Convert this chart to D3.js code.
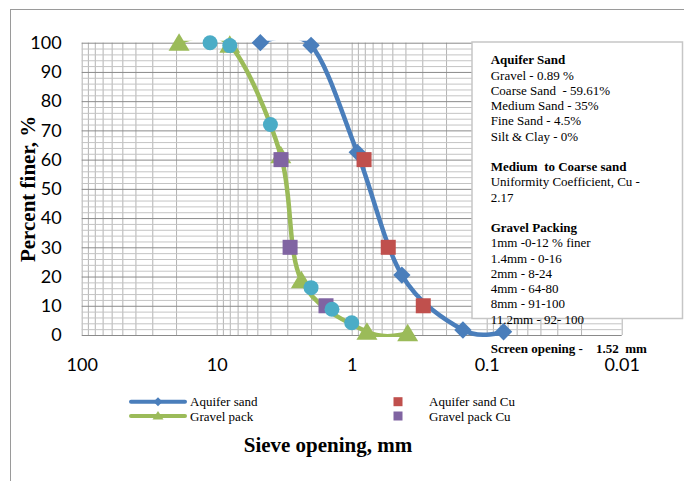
<!DOCTYPE html>
<html><head><meta charset="utf-8">
<script src="https://cdn.jsdelivr.net/npm/d3@7"></script>
<style>
html,body{margin:0;padding:0;background:#fff;}
svg{display:block;}
</style></head>
<body>
<svg id="chart" width="684" height="481"></svg>
<script>
// ---------------- data ----------------
const aquiferSize  = [4.75, 2.0, 0.91, 0.425, 0.15, 0.075];
const aquiferFiner = [100, 99.1, 62.5, 20.5, 1.7, 1.1];

const gravelSize  = [19, 8, 3.35, 2.36, 0.771, 0.385];
const gravelFiner = [100, 99.3, 61.5, 18.7, 1.1, 0.6];

const specSize  = [11.2, 8, 4, 2, 1.4, 1];
const specFiner = [100, 99, 72, 16.2, 8.8, 4.2];

const aquiferCuSize  = [0.81, 0.536, 0.295];
const aquiferCuFiner = [60, 30, 10];

const gravelCuSize  = [3.34, 2.86, 1.55];
const gravelCuFiner = [60, 30, 10];

const xTickValues = [100, 10, 1, 0.1, 0.01];
const xTickLabels = ["100", "10", "1", "0.1", "0.01"];
const yTickValues = [0, 10, 20, 30, 40, 50, 60, 70, 80, 90, 100];

const legendNames = ["Aquifer sand", "Gravel pack", "Aquifer sand Cu", "Gravel pack Cu"];

const boxLines = [
  {t: "Aquifer Sand", b: true},
  {t: "Gravel - 0.89 %"},
  {t: "Coarse Sand  - 59.61%"},
  {t: "Medium Sand - 35%"},
  {t: "Fine Sand - 4.5%"},
  {t: "Silt & Clay - 0%"},
  {t: ""},
  {t: "Medium  to Coarse sand", b: true},
  {t: "Uniformity Coefficient, Cu -"},
  {t: "2.17"},
  {t: ""},
  {t: "Gravel Packing", b: true},
  {t: "1mm -0-12 % finer"},
  {t: "1.4mm - 0-16"},
  {t: "2mm - 8-24"},
  {t: "4mm - 64-80"},
  {t: "8mm - 91-100"},
  {t: "11.2mm - 92- 100"}
];

// ---------------- colours ----------------
const C_BLUE = "#4A7EBB", C_GREEN = "#9BBB59", C_RED = "#C0504D", C_PURPLE = "#8064A2", C_CYAN = "#4BACC6";

const svg = d3.select("#chart");
const pLeft = 81.7, pRight = 621.7, pTop = 42.7, pBottom = 335;

const x = d3.scaleLog().domain([100, 0.01]).range([pLeft, pRight]);
const y = d3.scaleLinear().domain([0, 100]).range([pBottom, pTop]);

// outer chart border
svg.append("rect").attr("x", 10.5).attr("y", 9.5).attr("width", 720).attr("height", 520)
  .attr("fill", "none").attr("stroke", "#9a9a9a").attr("stroke-width", 1);

// ---------------- grid ----------------
const minorX = [];
[10, 1, 0.1, 0.01].forEach(dec => { for (let k = 1; k <= 9; k++) minorX.push(dec * k); });
minorX.push(100);
const minorY = d3.range(0, 101, 2);

const gx = svg.append("g").attr("transform", `translate(0,${pBottom})`)
  .call(d3.axisBottom(x).tickValues(minorX).tickSize(-(pBottom - pTop)).tickFormat(""));
gx.select(".domain").remove();
gx.selectAll("line").attr("stroke", "#b3b3b3").attr("stroke-width", 1);

const gyMinor = svg.append("g").attr("transform", `translate(${pLeft},0)`)
  .call(d3.axisLeft(y).tickValues(minorY.filter(v => v % 10 !== 0)).tickSize(-(pRight - pLeft)).tickFormat(""));
gyMinor.select(".domain").remove();
gyMinor.selectAll("line").attr("stroke", "#c4c4c4").attr("stroke-width", 1);

const gyMajor = svg.append("g").attr("transform", `translate(${pLeft},0)`)
  .call(d3.axisLeft(y).tickValues(yTickValues).tickSize(-(pRight - pLeft)).tickFormat(""));
gyMajor.select(".domain").remove();
gyMajor.selectAll("line").attr("stroke", "#8a8a8a").attr("stroke-width", 1);

// ---------------- tick labels ----------------
const yAx = svg.append("g").attr("transform", `translate(${pLeft},0)`)
  .call(d3.axisLeft(y).tickValues(yTickValues).tickSize(0).tickPadding(20));
yAx.select(".domain").remove();
yAx.selectAll("text").attr("font-family", "Lato, 'Open Sans', sans-serif").attr("font-size", 18).attr("fill", "#000");

const xAx = svg.append("g").attr("transform", `translate(0,${pBottom})`)
  .call(d3.axisBottom(x).tickValues(xTickValues).tickSize(0).tickPadding(23)
    .tickFormat((d, i) => xTickLabels[i]));
xAx.select(".domain").remove();
xAx.selectAll("text").attr("font-family", "Lato, 'Open Sans', sans-serif").attr("font-size", 18).attr("fill", "#000");

// ---------------- series ----------------
svg.append("clipPath").attr("id", "plotclip").append("rect")
  .attr("x", pLeft).attr("y", pTop - 2).attr("width", pRight - pLeft).attr("height", pBottom - pTop + 4);

const line = d3.line().x(d => x(d[0])).y(d => y(d[1])).curve(d3.curveCardinal.tension(0));

const aquiferPts = aquiferSize.map((s, i) => [s, aquiferFiner[i]]);
const gravelPts = gravelSize.map((s, i) => [s, gravelFiner[i]]);
const specPts = specSize.map((s, i) => [s, specFiner[i]]);
const aqCuPts = aquiferCuSize.map((s, i) => [s, aquiferCuFiner[i]]);
const grCuPts = gravelCuSize.map((s, i) => [s, gravelCuFiner[i]]);

const lines = svg.append("g").attr("clip-path", "url(#plotclip)");

// blue line + diamonds
lines.append("path").datum(aquiferPts).attr("d", line).attr("fill", "none")
  .attr("stroke", C_BLUE).attr("stroke-width", 4.5).attr("stroke-linejoin", "round");
const diamond = d3.symbol().type(d3.symbolSquare).size(150);
svg.append("g").selectAll("path").data(aquiferPts).join("path")
  .attr("d", diamond)
  .attr("transform", d => `translate(${x(d[0])},${y(d[1])}) rotate(45)`)
  .attr("fill", C_BLUE);

// green line + triangles
lines.append("path").datum(gravelPts).attr("d", line).attr("fill", "none")
  .attr("stroke", C_GREEN).attr("stroke-width", 4.5).attr("stroke-linejoin", "round");
const tri = d => `M0,-9.5L10.5,8L-10.5,8Z`;
svg.append("g").selectAll("path").data(gravelPts).join("path")
  .attr("d", tri)
  .attr("transform", d => `translate(${x(d[0])},${y(d[1])})`)
  .attr("fill", C_GREEN);

// Cu squares
svg.append("g").selectAll("rect").data(aqCuPts).join("rect")
  .attr("x", d => x(d[0]) - 7.5).attr("y", d => y(d[1]) - 7.5)
  .attr("width", 15).attr("height", 15).attr("fill", C_RED);
svg.append("g").selectAll("rect").data(grCuPts).join("rect")
  .attr("x", d => x(d[0]) - 7.5).attr("y", d => y(d[1]) - 7.5)
  .attr("width", 15).attr("height", 15).attr("fill", C_PURPLE);

// spec circles
svg.append("g").selectAll("circle").data(specPts).join("circle")
  .attr("cx", d => x(d[0])).attr("cy", d => y(d[1])).attr("r", 7.5).attr("fill", C_CYAN);

// ---------------- text box ----------------
svg.append("rect").attr("x", 472).attr("y", 42).attr("width", 210.5).attr("height", 276.5)
  .attr("fill", "#fff").attr("stroke", "#c6c6c6").attr("stroke-width", 1.5);

const box = svg.append("g").attr("font-family", "'Liberation Serif', 'Times New Roman', serif")
  .attr("font-size", 13).attr("fill", "#000");
box.selectAll("text").data(boxLines).join("text")
  .attr("x", 490.7).attr("y", (d, i) => 64.3 + i * 15.25)
  .attr("font-weight", d => d.b ? "bold" : "normal")
  .style("white-space", "pre")
  .text(d => d.t);

svg.append("text").attr("x", 490.7).attr("y", 353)
  .attr("font-family", "'Liberation Serif', 'Times New Roman', serif")
  .attr("font-size", 13).attr("font-weight", "bold").style("white-space", "pre")
  .text("Screen opening -    1.52  mm");

// ---------------- legend ----------------
const lg = svg.append("g").attr("font-family", "'Liberation Serif', 'Times New Roman', serif")
  .attr("font-size", 13).attr("fill", "#000");
const ly1 = 401.7, ly2 = 416;
lg.append("line").attr("x1", 131).attr("x2", 185).attr("y1", ly1).attr("y2", ly1)
  .attr("stroke", C_BLUE).attr("stroke-width", 4).attr("stroke-linecap", "round");
lg.append("path").attr("d", d3.symbol().type(d3.symbolSquare).size(40))
  .attr("transform", `translate(158,${ly1}) rotate(45)`).attr("fill", C_BLUE);
lg.append("line").attr("x1", 131).attr("x2", 185).attr("y1", ly2).attr("y2", ly2)
  .attr("stroke", C_GREEN).attr("stroke-width", 4).attr("stroke-linecap", "round");
lg.append("path").attr("d", "M0,-5L5.5,3.5L-5.5,3.5Z")
  .attr("transform", `translate(158,${ly2})`).attr("fill", C_GREEN);
lg.append("rect").attr("x", 393.5).attr("y", ly1 - 4.5).attr("width", 9).attr("height", 9).attr("fill", C_RED);
lg.append("rect").attr("x", 393.5).attr("y", ly2 - 4.5).attr("width", 9).attr("height", 9).attr("fill", C_PURPLE);
lg.append("text").attr("x", 190).attr("y", ly1 + 4.5).text(legendNames[0]);
lg.append("text").attr("x", 190).attr("y", ly2 + 4.5).text(legendNames[1]);
lg.append("text").attr("x", 429).attr("y", ly1 + 4.5).text(legendNames[2]);
lg.append("text").attr("x", 429).attr("y", ly2 + 4.5).text(legendNames[3]);

// ---------------- axis titles ----------------
svg.append("text").attr("x", 328).attr("y", 452)
  .attr("text-anchor", "middle")
  .attr("font-family", "'Liberation Serif', 'Times New Roman', serif")
  .attr("font-size", 21).attr("font-weight", "bold").text("Sieve opening, mm");

svg.append("text").attr("transform", `translate(35,${(pTop + pBottom) / 2}) rotate(-90)`)
  .attr("text-anchor", "middle")
  .attr("font-family", "'Liberation Serif', 'Times New Roman', serif")
  .attr("font-size", 21).attr("font-weight", "bold").text("Percent finer, %");
</script>
</body></html>
